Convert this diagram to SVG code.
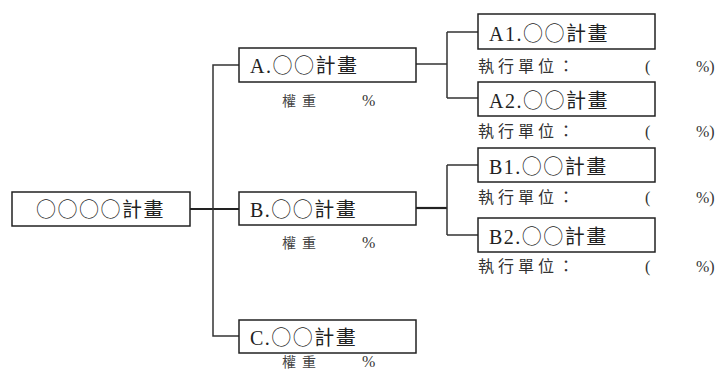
<svg xmlns="http://www.w3.org/2000/svg" width="718" height="371" viewBox="0 0 718 371">
<style>
.box{fill:#fff;stroke:#222;stroke-width:1.5}
.ln{fill:none;stroke:#333;stroke-width:1.5}
.thick{fill:none;stroke:#222;stroke-width:2.2}
.t{font-family:"Liberation Serif","Noto Sans CJK TC",serif;font-size:20px;fill:#222;letter-spacing:1.5px}
.c{font-family:"Noto Sans CJK TC",sans-serif;font-weight:300}
.s{font-family:"Liberation Serif","Noto Sans CJK TC",serif;font-size:16px;fill:#333;letter-spacing:4px}
.p{font-family:"Liberation Serif","Noto Sans CJK TC",serif;font-size:16px;fill:#333}
.w{font-family:"Liberation Serif","Noto Sans CJK TC",serif;font-size:14px;fill:#444;letter-spacing:6px}
</style>
<rect width="718" height="371" fill="#fff"/>
<g id="connectors">
<path class="thick" d="M190 209H239"/>
<path class="ln" d="M239 65H213V336H239"/>
<path class="ln" d="M416 64H447M447 32V98M447 32H478M447 98H478"/>
<path class="thick" d="M416 208H447"/>
<path class="ln" d="M447 165V235M447 165H478M447 235H478"/>
</g>
<g id="root">
<rect class="box" x="12" y="192" width="178" height="34"/>
<text class="t" x="36" y="217"><tspan class="c">○○○○</tspan>計畫</text>
</g>
<g id="A">
<rect class="box" x="239" y="48" width="177" height="34"/>
<text class="t" x="250" y="73">A.<tspan class="c">○○</tspan>計畫</text>
<text class="w" x="282" y="106">權重</text>
<text class="p" x="362" y="106">%</text>
</g>
<g id="B">
<rect class="box" x="239" y="192" width="177" height="33"/>
<text class="t" x="250" y="217">B.<tspan class="c">○○</tspan>計畫</text>
<text class="w" x="282" y="248">權重</text>
<text class="p" x="362" y="248">%</text>
</g>
<g id="C">
<rect class="box" x="239" y="320" width="177" height="33"/>
<text class="t" x="250" y="345">C.<tspan class="c">○○</tspan>計畫</text>
<text class="w" x="282" y="367">權重</text>
<text class="p" x="362" y="367">%</text>
</g>
<g id="A1">
<rect class="box" x="478" y="14" width="177" height="35"/>
<text class="t" x="489" y="41">A1.<tspan class="c">○○</tspan>計畫</text>
<text class="s" x="478" y="72">執行單位：</text>
<text class="p" x="645" y="72">(</text>
<text class="p" x="696" y="72">%)</text>
</g>
<g id="A2">
<rect class="box" x="478" y="82" width="177" height="34"/>
<text class="t" x="489" y="108">A2.<tspan class="c">○○</tspan>計畫</text>
<text class="s" x="478" y="137">執行單位：</text>
<text class="p" x="645" y="137">(</text>
<text class="p" x="696" y="137">%)</text>
</g>
<g id="B1">
<rect class="box" x="478" y="148" width="177" height="34"/>
<text class="t" x="489" y="174">B1.<tspan class="c">○○</tspan>計畫</text>
<text class="s" x="478" y="203">執行單位：</text>
<text class="p" x="645" y="203">(</text>
<text class="p" x="696" y="203">%)</text>
</g>
<g id="B2">
<rect class="box" x="478" y="218" width="177" height="34"/>
<text class="t" x="489" y="244">B2.<tspan class="c">○○</tspan>計畫</text>
<text class="s" x="478" y="272">執行單位：</text>
<text class="p" x="645" y="272">(</text>
<text class="p" x="696" y="272">%)</text>
</g>
</svg>
